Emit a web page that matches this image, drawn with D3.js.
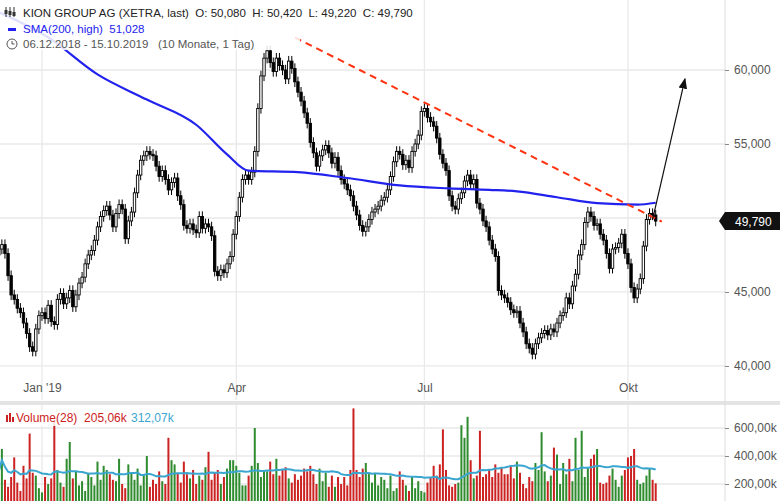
<!DOCTYPE html>
<html lang="en">
<head>
<meta charset="utf-8">
<title>KION GROUP AG</title>
<script src="https://cdn.jsdelivr.net/npm/d3@7"></script>
<style>
  body { margin: 0; padding: 0; background: #fff; font-family: "Liberation Sans", Arial, sans-serif; }
  .tick text { font-size: 12px; fill: #555; }
  text { white-space: pre; }
</style>
</head>
<body>
<svg id="chart" width="780" height="501"></svg>
<script>
// daily closes, 06.12.2018 - 15.10.2019 (one per trading day)
var closes = [
  47.9, 48.2, 47.6, 46.1, 44.8, 44.5, 43.9, 43.6, 42.9, 42.2, 41.3, 41.0, 42.5, 43.4,
  43.6, 43.2, 44.1, 43.0, 42.8, 44.5, 44.9, 44.2, 44.6, 45.1, 44.0, 44.8, 45.6, 46.0, 46.9, 47.5, 47.8, 48.5, 49.4, 50.1, 50.5, 50.8,
  50.2, 49.4, 50.3, 50.9, 50.6, 48.6, 49.8, 50.4, 51.7, 52.9, 53.9, 54.2, 54.5, 54.3, 54.2, 53.5, 52.8, 53.2, 52.6, 51.9,
  52.4, 52.7, 51.5, 50.9, 49.5, 49.3, 49.6, 49.2, 49.0, 50.1, 49.3, 49.6, 49.4, 48.8, 46.4, 46.1, 46.5, 46.3, 46.9, 47.4, 48.9,
  50.1, 51.4, 52.6, 52.9, 52.6, 53.1, 54.5, 57.4, 59.6, 60.8, 61.3, 60.5, 59.9, 60.8, 60.3, 60.0, 59.4, 60.6, 60.1, 59.2,
  58.5, 57.9, 57.1, 56.4, 55.1, 54.4, 53.5, 54.2, 54.6, 54.9, 54.4, 53.7, 54.1, 53.2, 52.6, 52.3, 51.9, 51.5, 50.8, 50.2, 49.5, 49.1,
  49.4, 49.9, 50.4, 50.6, 50.8, 51.2, 51.4, 51.9, 52.8, 53.8, 54.5, 54.3, 53.6, 53.9, 53.4, 54.5, 55.0, 55.6, 57.2,
  57.4, 56.8, 56.5, 56.2, 55.4, 54.3, 53.7, 53.2, 51.5, 50.8, 50.6, 51.3, 51.7, 52.5, 52.9, 52.3, 52.6, 51.0, 50.6, 49.8, 49.4, 48.5, 47.9,
  47.4, 45.1, 44.8, 44.6, 44.3, 43.8, 43.6, 43.7, 42.9, 42.3, 41.5, 41.2, 40.8, 41.5, 41.9, 42.2, 42.4, 42.1, 42.5, 42.3, 42.9, 43.4,
  43.6, 44.6, 44.2, 45.4, 46.2, 47.5, 48.2, 49.7, 50.4, 50.1, 49.5, 49.6, 48.9, 48.5, 47.6, 46.6, 47.9, 48.0, 48.3, 48.9, 47.6,
  46.9, 45.3, 44.6, 45.2, 45.9, 48.1, 49.9, 50.3, 50.2, 49.79
];
var firstOpen = 47.5;

// daily volume in thousands
var volumes = [
  290, 450, 230, 180, 250, 390, 210, 150, 330, 240,
  560, 280, 260, 170, 140, 250, 200, 240, 650, 300,
  210, 180, 380, 500, 240, 290, 190, 220, 150, 280,
  250, 190, 360, 230, 330, 300, 270, 230, 220, 380,
  200, 170, 340, 280, 230, 310, 190, 270, 400, 180,
  230, 200, 290, 220, 200, 530, 370, 340, 280, 210,
  360, 270, 240, 300, 200, 260, 230, 320, 430, 230,
  280, 300, 200, 250, 310, 370, 370, 330, 280, 190,
  190, 260, 330, 600, 350, 250, 300, 290, 360, 270,
  380, 260, 300, 320, 240, 210, 270, 230, 260, 310,
  290, 330, 270, 200, 310, 220, 280, 180, 260, 180,
  250, 200, 250, 190, 300, 740, 300, 250, 310, 350,
  280, 210, 280, 190, 250, 230, 170, 260, 150, 170,
  290, 230, 190, 150, 250, 170, 220, 150, 140, 210,
  250, 330, 260, 340, 590, 300, 190, 180, 200, 210,
  620, 530, 680, 370, 240, 260, 580, 250, 270, 300,
  250, 340, 280, 320, 270, 270, 330, 240, 360, 280,
  200, 170, 250, 220, 350, 300, 570, 290, 220, 260,
  460, 410, 200, 350, 270, 380, 220, 530, 300, 580,
  250, 320, 380, 410, 450, 210, 200, 210, 260, 310,
  230, 180, 260, 300, 390, 400, 450, 230, 200, 210,
  260, 310, 230, 205
];

// SMA(200, high), read at sample days
var smaDay = [0, 16, 32, 48, 64, 74, 81, 97, 113, 130, 146, 159, 168, 181, 194, 207, 213];
var smaVal = [63.9, 62.2, 59.7, 58.0, 56.3, 54.3, 53.2, 53.1, 52.7, 52.2, 52.0, 51.9, 51.8, 51.4, 51.0, 50.9, 51.03];

var xTickDay = [14, 77, 138, 204];
var xTickLabel = ["Jan '19", "Apr", "Jul", "Okt"];
var priceTicks = [40, 45, 50, 55, 60];
var priceLabels = [40, 45, 55, 60];
var volTicks = [200, 400, 600];

var candles = closes.map(function (c, i) {
  var o = i === 0 ? firstOpen : closes[i - 1];
  return { i: i, o: o, c: c, h: Math.max(o, c) + 0.35, l: Math.min(o, c) - 0.35, v: volumes[i] };
});

var svg = d3.select("#chart");
var W = 725, priceTop = 0, priceBot = 400, volTop = 405, volBot = 501;

var x = d3.scaleLinear().domain([0, 213]).range([-1.2, 655.7]);
var y = d3.scaleLinear().domain([37.7, 64.73]).range([priceBot, priceTop]);
var yv = d3.scaleLinear().domain([0, 600]).range([512, 428]);

// grid
var grid = svg.append("g").attr("stroke", "#e9e9e9").attr("stroke-width", 1.3);
xTickDay.forEach(function (d) {
  grid.append("line").attr("x1", x(d)).attr("x2", x(d)).attr("y1", 0).attr("y2", priceBot);
  grid.append("line").attr("x1", x(d)).attr("x2", x(d)).attr("y1", volTop).attr("y2", volBot);
});
priceTicks.forEach(function (p) {
  grid.append("line").attr("x1", 0).attr("x2", W).attr("y1", y(p)).attr("y2", y(p));
});
volTicks.forEach(function (v) {
  grid.append("line").attr("x1", 0).attr("x2", W).attr("y1", yv(v)).attr("y2", yv(v));
});
svg.append("rect").attr("x", 0).attr("y", priceBot + 1).attr("width", 780).attr("height", 4).attr("fill", "#e4e4e4");
svg.append("line").attr("x1", W).attr("x2", W).attr("y1", 0).attr("y2", 501).attr("stroke", "#ddd");

// axes
svg.append("g").attr("transform", "translate(" + W + ",0)")
  .call(d3.axisRight(y).tickValues(priceLabels).tickSize(4).tickFormat(function (d) { return d3.format(",.3f")(d).replace(".", ","); }))
  .call(function (g) { g.select(".domain").remove(); g.selectAll("line").attr("stroke", "#888"); g.selectAll("text").attr("x", 9); });
svg.append("g").attr("transform", "translate(" + W + ",0)")
  .call(d3.axisRight(yv).tickValues(volTicks).tickSize(4).tickFormat(function (d) { return d + ",00k"; }))
  .call(function (g) { g.select(".domain").remove(); g.selectAll("line").attr("stroke", "#888"); g.selectAll("text").attr("x", 9); });
svg.append("g").attr("transform", "translate(0," + (priceBot - 4) + ")")
  .call(d3.axisBottom(x).tickValues(xTickDay).tickSize(0).tickFormat(function (d, i) { return xTickLabel[i]; }))
  .call(function (g) { g.select(".domain").remove(); g.selectAll("text").attr("dy", "-0.6em"); });

// volume bars
svg.append("g").selectAll("rect").data(candles).enter().append("rect")
  .attr("x", function (d) { return x(d.i) - 1; })
  .attr("width", 2)
  .attr("y", function (d) { return yv(d.v); })
  .attr("height", function (d) { return volBot - yv(d.v); })
  .attr("fill", function (d) { return d.c >= d.o ? "#2e8b2e" : "#cc2222"; });

// volume SMA(28)
var vsma = candles.map(function (d, i) {
  var s = candles.slice(Math.max(0, i - 27), i + 1);
  return [d.i, d3.mean(s, function (e) { return e.v; })];
});
svg.append("path").datum(vsma)
  .attr("fill", "none").attr("stroke", "#3aa6d0").attr("stroke-width", 2)
  .attr("d", d3.line().x(function (d) { return x(d[0]); }).y(function (d) { return yv(d[1]); }));

// candles
var cg = svg.append("g");
cg.selectAll("line").data(candles).enter().append("line")
  .attr("x1", function (d) { return x(d.i); }).attr("x2", function (d) { return x(d.i); })
  .attr("y1", function (d) { return y(d.h); }).attr("y2", function (d) { return y(d.l); })
  .attr("stroke", "#000").attr("stroke-width", 1);
cg.selectAll("rect").data(candles).enter().append("rect")
  .attr("x", function (d) { return x(d.i) - 1.2; })
  .attr("width", 2.4)
  .attr("y", function (d) { return y(Math.max(d.o, d.c)); })
  .attr("height", function (d) { return Math.max(0.8, Math.abs(y(d.o) - y(d.c))); })
  .attr("fill", function (d) { return d.c >= d.o ? "#fff" : "#000"; })
  .attr("stroke", "#000").attr("stroke-width", 0.9);

// SMA 200
svg.append("path").datum(d3.zip(smaDay, smaVal))
  .attr("fill", "none").attr("stroke", "#2222ee").attr("stroke-width", 2.2)
  .attr("d", d3.line().curve(d3.curveMonotoneX).x(function (d) { return x(d[0]); }).y(function (d) { return y(d[1]); }));

// trend line and arrow
svg.append("line").attr("x1", x(96)).attr("y1", y(62.2)).attr("x2", x(215)).attr("y2", y(49.75))
  .attr("stroke", "#ff3311").attr("stroke-width", 2).attr("stroke-dasharray", "7,5");
svg.append("defs").append("marker").attr("id", "ah").attr("viewBox", "0 0 10 10")
  .attr("refX", 9).attr("refY", 5).attr("markerWidth", 9).attr("markerHeight", 9).attr("orient", "auto")
  .append("path").attr("d", "M0,1L10,5L0,9z").attr("fill", "#111");
svg.append("line").attr("x1", x(212)).attr("y1", y(49.9)).attr("x2", x(222.5)).attr("y2", y(59.4))
  .attr("stroke", "#111").attr("stroke-width", 1.2).attr("marker-end", "url(#ah)");

// last price tag
var last = closes[closes.length - 1];
svg.append("path").attr("d", "M" + (W - 6) + "," + y(last) + "L" + W + "," + (y(last) - 9) + "H780V" + (y(last) + 9) + "H" + W + "Z").attr("fill", "#111");
svg.append("text").attr("x", 735).attr("y", y(last) + 4.5).attr("fill", "#fff").attr("font-size", 12).text("49,790");

// legends
var lg = svg.append("g").attr("font-size", 12);
lg.append("rect").attr("x", 0).attr("y", 0).attr("width", 300).attr("height", 50).attr("fill", "#fff").attr("opacity", 0.85);
[6, 10, 14].forEach(function (xx, k) {
  lg.append("line").attr("x1", xx).attr("x2", xx).attr("y1", 7).attr("y2", 17).attr("stroke", "#333");
  lg.append("rect").attr("x", xx - 1.5).attr("y", 10 + k).attr("width", 3).attr("height", 4).attr("fill", "#333");
});
lg.append("text").attr("x", 23).attr("y", 17).attr("fill", "#222").attr("font-size", 11.5).text("KION GROUP AG (XETRA, last)  O: 50,080  H: 50,420  L: 49,220  C: 49,790");
lg.append("rect").attr("x", 8).attr("y", 28).attr("width", 8).attr("height", 3).attr("fill", "#2222ee");
lg.append("text").attr("x", 23).attr("y", 33).attr("fill", "#2222ee").attr("font-size", 11.5).text("SMA(200, high)  51,028");
lg.append("circle").attr("cx", 12).attr("cy", 44).attr("r", 5).attr("fill", "none").attr("stroke", "#555");
lg.append("path").attr("d", "M12,41V44H14.5").attr("fill", "none").attr("stroke", "#555");
lg.append("text").attr("x", 23).attr("y", 48).attr("fill", "#555").attr("font-size", 11.5).text("06.12.2018 - 15.10.2019   (10 Monate, 1 Tag)");

var vl = svg.append("g").attr("font-size", 12);
vl.append("rect").attr("x", 3).attr("y", 410).attr("width", 168).attr("height", 16).attr("fill", "#fff").attr("opacity", 0.85);
vl.append("rect").attr("x", 6).attr("y", 415).attr("width", 2).attr("height", 7).attr("fill", "#cc2222");
vl.append("rect").attr("x", 9).attr("y", 413).attr("width", 2).attr("height", 9).attr("fill", "#cc2222");
vl.append("rect").attr("x", 12).attr("y", 417).attr("width", 2).attr("height", 5).attr("fill", "#cc2222");
vl.append("text").attr("x", 16).attr("y", 422).attr("fill", "#cc2222").text("Volume(28)  205,06k");
vl.append("text").attr("x", 131).attr("y", 422).attr("fill", "#3aa6d0").text("312,07k");
</script>
</body>
</html>
